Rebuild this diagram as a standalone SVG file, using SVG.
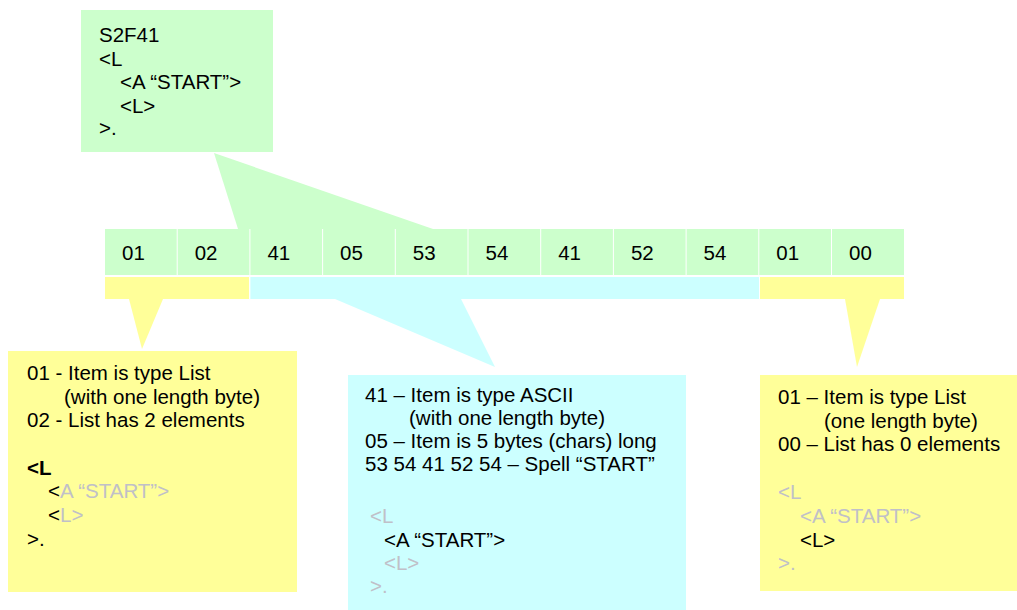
<svg xmlns="http://www.w3.org/2000/svg" width="1017" height="610" viewBox="0 0 1017 610">
  <style>
    text { font-family: "Liberation Sans", Arial, sans-serif; font-size: 20.5px; fill: #000000; }
    .g { fill: #C0C0C8; }
    .b { font-weight: bold; }
    .green { fill: #CCFFCC; }
    .yellow { fill: #FFFF99; }
    .cyan { fill: #CCFFFF; }
  </style>
  <rect width="1017" height="610" fill="#FFFFFF"/>

  <g id="connectors">
    <polygon class="green" points="214,153 238,229 433,229"/>
    <polygon class="yellow" points="129,299 163,299 142,349"/>
    <polygon class="cyan" points="335,299 461,299 495,367"/>
    <polygon class="yellow" points="845,299 880,299 857,367"/>
  </g>

  <g id="node-s2f41">
    <rect class="green" x="81" y="10" width="192" height="142"/>
    <text x="99" y="42">S2F41</text>
    <text x="99" y="66">&lt;L</text>
    <text x="120" y="89">&lt;A “START”&gt;</text>
    <text x="120" y="113">&lt;L&gt;</text>
    <text x="99" y="135">&gt;.</text>
  </g>

  <g id="node-bytes">
    <rect class="green" x="105" y="229" width="71.7" height="46"/>
    <rect class="green" x="177.7" y="229" width="71.7" height="46"/>
    <rect class="green" x="250.4" y="229" width="71.7" height="46"/>
    <rect class="green" x="323.1" y="229" width="71.7" height="46"/>
    <rect class="green" x="395.8" y="229" width="71.7" height="46"/>
    <rect class="green" x="468.5" y="229" width="71.7" height="46"/>
    <rect class="green" x="541.2" y="229" width="71.7" height="46"/>
    <rect class="green" x="613.9" y="229" width="71.7" height="46"/>
    <rect class="green" x="686.6" y="229" width="71.7" height="46"/>
    <rect class="green" x="759.3" y="229" width="71.7" height="46"/>
    <rect class="green" x="832" y="229" width="72" height="46"/>
    <text x="122" y="260">01</text>
    <text x="194.7" y="260">02</text>
    <text x="267.4" y="260">41</text>
    <text x="340.1" y="260">05</text>
    <text x="412.8" y="260">53</text>
    <text x="485.5" y="260">54</text>
    <text x="558.2" y="260">41</text>
    <text x="630.9" y="260">52</text>
    <text x="703.6" y="260">54</text>
    <text x="776.3" y="260">01</text>
    <text x="849" y="260">00</text>
  </g>

  <g id="node-bands">
    <rect class="yellow" x="105" y="277" width="144" height="22"/>
    <rect class="cyan" x="250.4" y="277" width="508.6" height="22"/>
    <rect class="yellow" x="760" y="277" width="144" height="22"/>
  </g>

  <g id="node-list-header">
    <rect class="yellow" x="8" y="351" width="289" height="241"/>
    <text x="27" y="380">01 - Item is type List</text>
    <text x="64" y="404">(with one length byte)</text>
    <text x="27" y="427">02 - List has 2 elements</text>
    <text x="27" y="475" class="b">&lt;L</text>
    <text x="48" y="498">&lt;<tspan class="g">A “START”&gt;</tspan></text>
    <text x="48" y="522">&lt;<tspan class="g">L&gt;</tspan></text>
    <text x="27" y="546">&gt;.</text>
  </g>

  <g id="node-ascii">
    <rect class="cyan" x="348" y="375" width="338" height="235"/>
    <text x="365" y="402">41 – Item is type ASCII</text>
    <text x="409" y="425">(with one length byte)</text>
    <text x="365" y="448">05 – Item is 5 bytes (chars) long</text>
    <text x="365" y="471">53 54 41 52 54 – Spell “START”</text>
    <text x="370" y="523" class="g">&lt;L</text>
    <text x="384" y="547">&lt;A “START”&gt;</text>
    <text x="384" y="570" class="g">&lt;L&gt;</text>
    <text x="370" y="593" class="g">&gt;.</text>
  </g>

  <g id="node-empty-list">
    <rect class="yellow" x="760" y="375" width="257" height="216"/>
    <text x="778" y="404">01 – Item is type List</text>
    <text x="824" y="428">(one length byte)</text>
    <text x="778" y="451">00 – List has 0 elements</text>
    <text x="778" y="499" class="g">&lt;L</text>
    <text x="800" y="523" class="g">&lt;A “START”&gt;</text>
    <text x="800" y="547">&lt;L&gt;</text>
    <text x="778" y="570" class="g">&gt;.</text>
  </g>
</svg>
